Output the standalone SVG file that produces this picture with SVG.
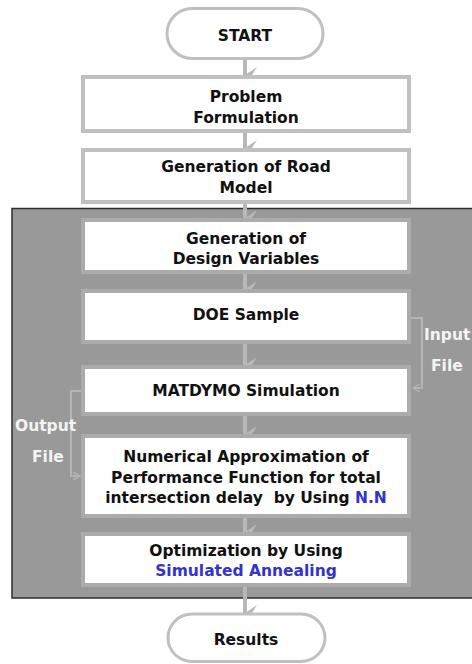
<svg xmlns="http://www.w3.org/2000/svg" width="472" height="664" viewBox="0 0 472 664">
<style>
text{font-family:"DejaVu Sans","Verdana",sans-serif;font-weight:bold;font-size:15.5px;fill:#111;text-anchor:middle}
.blue{fill:#3333cc}
.lbl{fill:#f4f4f4;text-anchor:start}
.box{fill:#fff;stroke:#c0c0c0;stroke-width:4}
.ibox{fill:#fff;stroke:#ababab;stroke-width:4}
.term{fill:#fff;stroke:#c0c0c0;stroke-width:3}
.shaft{stroke:#b8b8b8;stroke-width:4;fill:none}
.link{stroke:#b4b4b4;stroke-width:2;fill:none}
</style>
<defs>
<marker id="ah" markerUnits="userSpaceOnUse" viewBox="0 0 16 12" refX="8" refY="12" markerWidth="16" markerHeight="12" orient="auto-start-reverse">
<path d="M0,0 L8,5 L16,0 L8,12 Z" fill="#b8b8b8"/>
</marker>
<marker id="sh" markerUnits="userSpaceOnUse" viewBox="0 0 8 8" refX="7" refY="4" markerWidth="8" markerHeight="8" orient="auto">
<path d="M0,0 L7,4 L0,8" fill="none" stroke="#b4b4b4" stroke-width="1.5"/>
</marker>
</defs>
<rect id="panel" x="12" y="208.5" width="470" height="389.5" fill="#999999" stroke="#2e2e2e" stroke-width="1.5"/>
<g id="connectors">
<path d="M245,58 V75" class="shaft" marker-end="url(#ah)"/>
<path d="M245,132 V148" class="shaft" marker-end="url(#ah)"/>
<path d="M245,203 V218" class="shaft" marker-end="url(#ah)"/>
<path d="M245,273 V289" class="shaft" marker-end="url(#ah)"/>
<path d="M245,343 V365" class="shaft" marker-end="url(#ah)"/>
<path d="M245,415 V434" class="shaft" marker-end="url(#ah)"/>
<path d="M245,517 V532" class="shaft" marker-end="url(#ah)"/>
<path d="M245,586 V613" class="shaft" marker-end="url(#ah)"/>
<path class="link" d="M411,318 H422 V388 H413" marker-end="url(#sh)"/>
<path class="link" d="M81,391 H71 V476 H80" marker-end="url(#sh)"/>
</g>
<g id="start"><rect class="term" x="167" y="8.5" width="156" height="50" rx="25"/><text x="245" y="40.5">START</text></g>
<g id="problem"><rect class="box" x="83" y="77" width="326" height="54"/><text x="246" y="101.5">Problem</text><text x="246" y="122.5">Formulation</text></g>
<g id="road"><rect class="box" x="83" y="150" width="326" height="52"/><text x="246" y="171.5">Generation of Road</text><text x="246" y="192.5">Model</text></g>
<g id="design"><rect class="ibox" x="83" y="220" width="326" height="52"/><text x="246" y="243.5">Generation of</text><text x="246" y="263.5">Design Variables</text></g>
<g id="doe"><rect class="ibox" x="83" y="291" width="326" height="51"/><text x="246" y="319.5">DOE Sample</text></g>
<g id="matdymo"><rect class="ibox" x="83" y="367" width="326" height="47"/><text x="246" y="395.5">MATDYMO Simulation</text></g>
<g id="numerical"><rect class="ibox" x="83" y="436" width="326" height="80"/><text x="246" y="462">Numerical Approximation of</text><text x="246" y="482.5">Performance Function for total</text><text x="246" y="503" style="white-space:pre">intersection delay  by Using <tspan class="blue">N.N</tspan></text></g>
<g id="optimization"><rect class="ibox" x="83" y="534" width="326" height="51"/><text x="246" y="555.5">Optimization by Using</text><text x="246" y="575.5" class="blue">Simulated Annealing</text></g>
<g id="results"><rect class="term" x="168" y="614" width="157" height="47.5" rx="24"/><text x="246" y="645">Results</text></g>
<g id="labels">
<text class="lbl" x="424" y="340">Input</text>
<text class="lbl" x="431" y="371">File</text>
<text class="lbl" x="15" y="431">Output</text>
<text class="lbl" x="32" y="462">File</text>
</g>
</svg>
